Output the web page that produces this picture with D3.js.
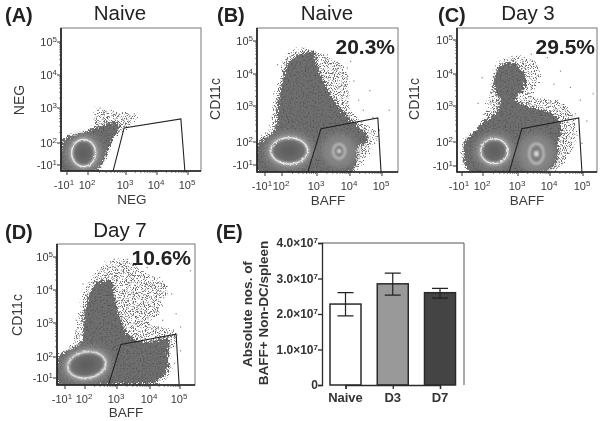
<!DOCTYPE html>
<html><head><meta charset="utf-8">
<script src="https://cdn.jsdelivr.net/npm/d3@7/dist/d3.min.js"></script>
<style>html,body{margin:0;background:#fff}svg{display:block;font-family:"Liberation Sans",Arial,sans-serif;filter:blur(0.35px)}</style>
</head><body><svg id="c" width="604" height="421"></svg>
<script>
// ---- data: values in axis units (log10 decades; -1 stands for the "-10^1" tick)
const flowTicks = [-1, 2, 3, 4, 5];
const gateA = [[2.66,-1.85],[2.95,2.43],[4.77,2.69],[4.9,-1.85]];
const gateBCD = [[2.74,-1.9],[3.12,2.37],[4.87,2.67],[4.97,-1.9]];
const bodyA = [[-1.6,-1.9],[-1.6,2.08],[-0.87,2.19],[0.9,2.27],[2.13,2.42],[2.49,2.56],[2.82,2.58],[2.82,2.42],[2.62,2.03],[2.5,0.5],[2.35,-1],[2.2,-1.9]];
const haloA = [[2.22,2.95],[2.67,2.9],[3.32,2.8],[2.97,2.42],[2.75,2.27],[2.22,2.27]];
const bodyB = [[-2.2,-1.86],[-2.2,2],[-0.7,2.14],[0.8,2.37],[1.22,2.98],[2,3.72],[2.15,4.32],[2.55,4.62],[2.9,4.67],[3.0,4.3],[3.15,3.9],[3.3,3.6],[3.5,3.2],[3.9,2.75],[4.2,2.47],[4.5,2.23],[4.55,2],[4.2,1.36],[4.2,-0.36],[4.05,-1.86]];
const haloB = [[-2.2,-1.86],[-2.2,2.05],[-0.4,2.3],[0.5,2.98],[1.7,3.92],[2.1,4.52],[2.62,4.77],[3.1,4.62],[3.9,4.12],[3.95,3.5],[4,2.9],[4.5,2.5],[4.85,2.23],[4.65,1.36],[4.35,-0.8],[4.2,-1.86]];
const bodyC = [[-0.08,-1.54],[-0.77,0.96],[-0.54,2.05],[0.85,2.28],[2,2.56],[2.38,2.84],[2.48,3.19],[2.33,3.5],[2.33,3.92],[2.52,4.27],[2.86,4.32],[3.16,4.07],[3.21,3.6],[2.95,3.19],[3.47,2.95],[4.15,2.75],[4.35,2.4],[4.3,2.1],[4.25,1.79],[4.2,-0.29],[3.9,-1.54]];
const haloC = [[-1,0.54],[0.15,2.05],[2.05,2.8],[2.24,3.6],[2.48,4.37],[3.16,4.5],[3.58,4.32],[3.68,3.82],[3.42,3.3],[4.2,3.19],[4.6,2.9],[4.8,2.23],[4.7,1.38],[4.3,-1.1],[3.9,-1.75],[-0.08,-1.75]];
const bodyD = [[-2,-1.92],[-2,2],[-0.5,2.2],[1.5,2.44],[1.75,3.08],[2.15,3.9],[2.41,4.26],[2.82,4.26],[2.93,3.8],[3.08,3.18],[3.34,2.68],[3.8,2.44],[4.61,2.54],[4.61,2.1],[4.55,0.15],[4.22,-1.46],[2.98,-1.92]];
const haloD = [[-2,2],[0.25,2.4],[1,3.18],[2.1,4.15],[2.56,4.72],[3.18,4.92],[3.9,4.5],[4.55,4.15],[4.33,3.38],[4,2.98],[4.89,2.73],[4.67,2],[4.67,-0.3],[4.33,-1.7],[-2,-1.92]];
// hot spots as [xMin, xMax, yMin, yMax]
const ringsA = [[-0.34,2.2,-1.2,2.1]];
const ringsB = [[0.02,2.73,-0.87,2.12],[3.49,3.85,-0.14,1.74]];
const ringsC = [[1.68,2.71,-0.7,2.09],[3.35,3.8,-0.7,1.79]];
const ringsD = [[-0.6,2.65,-1,2.15]];
const strayA = [[2.3,3.02],[2.4,2.85],[2.55,2.75],[2.75,2.72],[2.9,2.68],[3.1,2.78],[3.25,2.85],[2.6,2.95],[2.95,2.5],[3.05,2.55]];
const strayB = [[3.3,4.6],[3.6,4.3],[4.1,3.8],[4.25,3.2],[4.4,2.9],[4.7,2.7],[4.9,2.35],[4.75,1.9],[3.3,4.35],[3.9,4.2],[1.1,4.3],[0.4,3.4],[5.2,2.9],[4.6,3.5],[4.0,4.4]];
const strayC = [[3.9,4.5],[4.3,4.1],[4.6,3.6],[4.9,3.2],[5.1,2.6],[4.95,1.9],[4.6,0.9],[3.4,4.6],[1.8,3.9],[4.2,4.7],[5.3,3.4],[4.75,2.8],[1.2,3.1],[4.1,3.7],[3.7,4.75]];
const strayD = [[3.3,4.95],[3.9,4.7],[4.3,4.4],[4.7,3.9],[4.85,3.3],[5,2.9],[5,2.2],[4.8,1.2],[2.9,4.95],[1.6,4.2],[0.6,3.1],[4.1,3.7],[4.4,3.1],[5.3,4.6],[3.6,3.5]];
const barCats = ["Naive","D3","D7"];
const barMean = [2.28e7,2.85e7,2.6e7];
const barLow = [1.95e7,2.53e7,2.45e7];
const barHigh = [2.6e7,3.15e7,2.72e7];
const barTicks = [0,1e7,2e7,3e7,4e7];

// ---- layout
const panels = [
 {tag:"(A)",tagX:5,tagY:22,title:"Naive",tx:120,ty:20,L:61,R:201,T:28,B:171,xp:[67,88,126,157,188],yp:[165,143,108,75,42],xLab:"NEG",xlx:132,xly:204,yLab:"NEG",ylx:24,yly:100,gate:gateA,body:bodyA,halo:haloA,rings:ringsA,stray:strayA},
 {tag:"(B)",tagX:217,tagY:22,title:"Naive",tx:327,ty:20,L:257,R:398,T:28,B:172,xp:[265,282,317,350,382],yp:[165,142,106,74,41],xLab:"BAFF",xlx:328,xly:205,yLab:"CD11c",ylx:220,yly:99,gate:gateBCD,body:bodyB,halo:haloB,rings:ringsB,stray:strayB,pct:"20.3%",px:395,py:54},
 {tag:"(C)",tagX:438,tagY:22,title:"Day 3",tx:528,ty:20,L:457,R:597,T:28,B:172,xp:[462,483,518,550,583],yp:[166,142,106,74,40],xLab:"BAFF",xlx:527,xly:205,yLab:"CD11c",ylx:419,yly:99,gate:gateBCD,body:bodyC,halo:haloC,rings:ringsC,stray:strayC,pct:"29.5%",px:595,py:54},
 {tag:"(D)",tagX:5,tagY:239,title:"Day 7",tx:120,ty:237,L:57,R:195,T:244,B:385,xp:[65,85,117,150,180],yp:[378,357,323,290,257],xLab:"BAFF",xlx:126,xly:417,yLab:"CD11c",ylx:22,yly:315,gate:gateBCD,body:bodyD,halo:haloD,rings:ringsD,stray:strayD,pct:"10.6%",px:191,py:265,tilt:-9}
];
const svg = d3.select("#c");
const defs = svg.append("defs");
function filt(id, build){const f=defs.append("filter").attr("id",id).attr("x","-20%").attr("y","-20%").attr("width","140%").attr("height","140%").attr("color-interpolation-filters","sRGB");build(f);}
filt("rough",f=>{
 f.append("feTurbulence").attr("type","fractalNoise").attr("baseFrequency",0.6).attr("numOctaves",3).attr("seed",4).attr("result","n");
 f.append("feDisplacementMap").attr("in","SourceGraphic").attr("in2","n").attr("scale",9).attr("xChannelSelector","R").attr("yChannelSelector","G").attr("result","d");
 f.append("feColorMatrix").attr("in","n").attr("type","matrix").attr("values","0.7 0 0 0 0.62  0.7 0 0 0 0.62  0.7 0 0 0 0.62  0 0 0 0 1").attr("result","g");
 f.append("feComposite").attr("in","d").attr("in2","g").attr("operator","arithmetic").attr("k1",1).attr("k2",0).attr("k3",0).attr("k4",0).attr("result","m");
 f.append("feGaussianBlur").attr("in","m").attr("stdDeviation",0.3);
});
filt("speck",f=>{
 f.append("feTurbulence").attr("type","fractalNoise").attr("baseFrequency",0.9).attr("numOctaves",3).attr("seed",9).attr("result","n");
 f.append("feColorMatrix").attr("in","n").attr("type","matrix").attr("values","0 0 0 0 0  0 0 0 0 0  0 0 0 0 0  7 0 0 0 -3.6").attr("result","m");
 f.append("feDisplacementMap").attr("in","SourceGraphic").attr("in2","n").attr("scale",8).attr("result","d");
 f.append("feComposite").attr("in","d").attr("in2","m").attr("operator","in");
 f.append("feGaussianBlur").attr("stdDeviation",0.35);
});
filt("wob",f=>{
 f.append("feTurbulence").attr("type","fractalNoise").attr("baseFrequency",0.5).attr("numOctaves",2).attr("seed",3).attr("result","n");
 f.append("feDisplacementMap").attr("in","SourceGraphic").attr("in2","n").attr("scale",3);
 f.append("feGaussianBlur").attr("stdDeviation",0.4);
});
filt("b3",f=>f.append("feGaussianBlur").attr("stdDeviation",3.5));
filt("b1",f=>f.append("feGaussianBlur").attr("stdDeviation",1));

const axisCol="#333", txtCol="#3a3a3a";
function tickLabel(g,v,x,y,anchor){
 const t=g.append("text").attr("x",x).attr("y",y).attr("text-anchor",anchor).attr("font-size",11).attr("fill",txtCol);
 t.append("tspan").text(v<0?"-10":"10");
 t.append("tspan").attr("dy",-4).attr("font-size",8).text(Math.abs(v));
}
panels.forEach((p,i)=>{
 const xDom=[-2.4,...flowTicks,5.6], yDom=[-2,...flowTicks,5.5];
 const dx=p.xp[3]-p.xp[2], dy=p.yp[2]-p.yp[3];
 const x=d3.scaleLinear().domain(xDom).range([p.xp[0]-(1.4)*(p.xp[1]-p.xp[0])/3,...p.xp,p.xp[4]+0.6*dx]);
 const y=d3.scaleLinear().domain(yDom).range([p.yp[0]+(p.yp[0]-p.yp[1])/3,...p.yp,p.yp[4]-0.5*dy]);
 const g=svg.append("g");
 const clip="clip"+i;
 defs.append("clipPath").attr("id",clip).append("rect").attr("x",p.L).attr("y",p.T).attr("width",p.R-p.L).attr("height",p.B-p.T);
 const d=g.append("g").attr("clip-path",`url(#${clip})`);
 const smooth=d3.line().x(q=>x(q[0])).y(q=>y(q[1])).curve(d3.curveCatmullRomClosed.alpha(0.5));
 d.append("path").attr("d",smooth(p.halo)).attr("fill","#6a6a6a").attr("filter","url(#speck)");
 d.append("path").attr("d",smooth(p.body)).attr("fill","#707070").attr("filter","url(#rough)");
 d.selectAll("rect.stray").data(p.stray).join("rect").attr("x",q=>x(q[0])).attr("y",q=>y(q[1])).attr("width",1.2).attr("height",1.2).attr("fill","#888");
 p.rings.forEach((r,k)=>{
  const cx=(x(r[0])+x(r[1]))/2, cy=(y(r[2])+y(r[3]))/2, rx=Math.abs(x(r[1])-x(r[0]))/2, ry=Math.abs(y(r[2])-y(r[3]))/2;
  const big=rx>10;
  const tf=p.tilt?`rotate(${p.tilt} ${cx} ${cy})`:null;
  const e=(f,a,b)=>d.append("ellipse").attr("cx",cx).attr("cy",cy).attr("rx",a).attr("ry",b).attr("transform",tf).attr("filter",f);
  e("url(#b3)",rx+(big?6:12),ry+(big?5:10)).attr("fill",big?"#8f8f8f":"#858585");
  if(big){
   e("url(#b1)",rx,ry).attr("fill","#6f6f6f").attr("stroke","#a8a8a8").attr("stroke-width",4);
   e("url(#wob)",rx,ry).attr("fill","none").attr("stroke","#e6e6e6").attr("stroke-width",1.4);
   e("url(#b3)",rx*0.55,ry*0.55).attr("fill","#5e5e5e");
  } else {
   e("url(#b1)",rx,ry).attr("fill","#7c7c7c").attr("stroke","#bdbdbd").attr("stroke-width",2.5);
   e("url(#b1)",rx*0.35,ry*0.3).attr("fill","#dcdcdc");
  }
 });
 // gate
 g.append("path").attr("d",d3.line().x(q=>x(q[0])).y(q=>y(q[1]))(p.gate)).attr("fill","none").attr("stroke","#222").attr("stroke-width",1.1);
 // frame
 g.append("rect").attr("x",p.L).attr("y",p.T).attr("width",p.R-p.L).attr("height",p.B-p.T).attr("fill","none").attr("stroke","#777").attr("stroke-width",1);
 g.append("path").attr("d",`M${p.L},${p.T}V${p.B}H${p.R}`).attr("fill","none").attr("stroke","#1c1c1c").attr("stroke-width",1.6);
 // ticks
 flowTicks.forEach(v=>{
  g.append("line").attr("x1",x(v)).attr("x2",x(v)).attr("y1",p.B).attr("y2",p.B+4).attr("stroke",axisCol);
  g.append("line").attr("y1",y(v)).attr("y2",y(v)).attr("x1",p.L-4).attr("x2",p.L).attr("stroke",axisCol);
  tickLabel(g,v,x(v)+(v<0?-3:-1),p.B+18,"middle");
  tickLabel(g,v,p.L-4,y(v)+4,"end");
 });
 // minor ticks
 [2,3,4].forEach(dec=>[2,3,4,5,6,7,8,9].forEach(m=>{
  const v=dec+Math.log10(m);
  g.append("line").attr("x1",x(v)).attr("x2",x(v)).attr("y1",p.B).attr("y2",p.B+2).attr("stroke",axisCol).attr("stroke-width",.6);
  g.append("line").attr("y1",y(v)).attr("y2",y(v)).attr("x1",p.L-2).attr("x2",p.L).attr("stroke",axisCol).attr("stroke-width",.6);
 }));
 g.append("text").attr("x",p.xlx).attr("y",p.xly).attr("text-anchor","middle").attr("font-size",13.5).attr("fill",txtCol).text(p.xLab);
 g.append("text").attr("transform",`translate(${p.ylx},${p.yly}) rotate(-90)`).attr("text-anchor","middle").attr("font-size",14).attr("fill",txtCol).text(p.yLab);
 g.append("text").attr("x",p.tx).attr("y",p.ty).attr("text-anchor","middle").attr("font-size",20.5).attr("fill","#222").text(p.title);
 g.append("text").attr("x",p.tagX).attr("y",p.tagY).attr("font-size",20).attr("font-weight","bold").attr("fill","#222").text(p.tag);
 if(p.pct) g.append("text").attr("x",p.px).attr("y",p.py).attr("text-anchor","end").attr("font-size",21).attr("font-weight","bold").attr("fill","#222").text(p.pct);
});

// ---- panel E
const E={L:322,R:464,T:243,B:385};
const yE=d3.scaleLinear().domain([0,4e7]).range([E.B,E.T]);
const xE=d3.scalePoint().domain(barCats).range([345.5,440]);
const barFill=["#fff","#999","#444"];
const gE=svg.append("g");
gE.append("path").attr("d",`M${E.L},${E.T}H${E.R}V${E.B}`).attr("fill","none").attr("stroke","#555").attr("stroke-width",1);
gE.selectAll("rect.bar").data(barCats).join("rect").attr("x",c=>xE(c)-15.5).attr("y",(c,i)=>yE(barMean[i])).attr("width",31).attr("height",(c,i)=>E.B-yE(barMean[i])).attr("fill",(c,i)=>barFill[i]).attr("stroke","#2a2a2a").attr("stroke-width",1.5);
barCats.forEach((c,i)=>{
 const X=xE(c);
 gE.append("path").attr("d",`M${X-8},${yE(barHigh[i])}H${X+8}M${X},${yE(barHigh[i])}V${yE(barLow[i])}M${X-8},${yE(barLow[i])}H${X+8}`).attr("fill","none").attr("stroke","#222").attr("stroke-width",1.2);
});
const axY=gE.append("g").attr("transform",`translate(${E.L},0)`).call(d3.axisLeft(yE).tickValues(barTicks).tickFormat("").tickSize(4));
const axX=gE.append("g").attr("transform",`translate(0,${E.B})`).call(d3.axisBottom(xE).tickFormat("").tickSize(4));
[axY,axX].forEach(a=>{a.selectAll("path,line").attr("stroke","#2a2a2a").attr("stroke-width",1.3)});
barTicks.forEach(v=>{
 const t=gE.append("text").attr("x",E.L-4).attr("y",yE(v)+4).attr("text-anchor","end").attr("font-size",12).attr("font-weight","bold").attr("fill","#333");
 if(v===0){t.text("0");return;}
 t.append("tspan").text((v/1e7).toFixed(1)+"\u00d710");
 t.append("tspan").attr("dy",-4).attr("font-size",8).text("7");
});
barCats.forEach(c=>gE.append("text").attr("x",xE(c)).attr("y",402).attr("text-anchor","middle").attr("font-size",13).attr("font-weight","bold").attr("fill","#333").text(c));
gE.append("text").attr("transform","translate(252,314) rotate(-90)").attr("text-anchor","middle").attr("font-size",13.5).attr("font-weight","bold").attr("fill","#333").text("Absolute nos. of");
gE.append("text").attr("transform","translate(268,313) rotate(-90)").attr("text-anchor","middle").attr("font-size",13.5).attr("font-weight","bold").attr("fill","#333").text("BAFF+ Non-DC/spleen");
gE.append("text").attr("x",216).attr("y",239).attr("font-size",20).attr("font-weight","bold").attr("fill","#222").text("(E)");
</script></body></html>
